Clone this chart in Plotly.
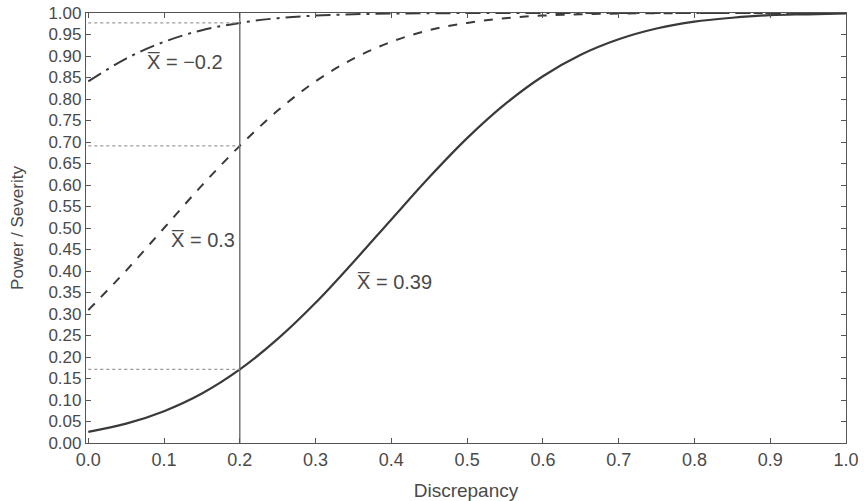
import plotly.graph_objects as go

# Discrepancy values
discrepancy = [0.00, 0.05, 0.10, 0.15, 0.20, 0.25, 0.30, 0.35, 0.40, 0.45, 0.50,
               0.55, 0.60, 0.65, 0.70, 0.75, 0.80, 0.85, 0.90, 0.95, 1.00]

# X-bar = -0.2 (dash-dot)
sev_m02 = [0.841, 0.894, 0.933, 0.960, 0.977, 0.988, 0.994, 0.997, 0.9987, 0.9995, 0.9998,
           0.9999, 1.0, 1.0, 1.0, 1.0, 1.0, 1.0, 1.0, 1.0, 1.0]
# X-bar = 0.3 (dashed)
sev_03 = [0.309, 0.401, 0.500, 0.599, 0.691, 0.773, 0.841, 0.894, 0.933, 0.960, 0.977,
          0.988, 0.994, 0.997, 0.9987, 0.9995, 0.9998, 0.9999, 1.0, 1.0, 1.0]
# X-bar = 0.39 (solid)
sev_039 = [0.026, 0.045, 0.074, 0.115, 0.171, 0.242, 0.326, 0.421, 0.520, 0.618, 0.709,
           0.788, 0.853, 0.903, 0.939, 0.964, 0.980, 0.989, 0.995, 0.997, 0.999]

ref_x = 0.2
ref_levels = [0.977, 0.691, 0.171]

labels = ["X\u0305 = \u22120.2", "X\u0305 = 0.3", "X\u0305 = 0.39"]
label_x = [0.075, 0.106, 0.352]
label_y = [0.886, 0.472, 0.374]

x_ticks = [0.0, 0.1, 0.2, 0.3, 0.4, 0.5, 0.6, 0.7, 0.8, 0.9, 1.0]
y_ticks = [round(i * 0.05, 2) for i in range(21)]

line_col = "#3a3a3a"
txt_col = "#4a4a4a"
fam = "Liberation Sans"

fig = go.Figure()
fig.add_trace(go.Scatter(x=discrepancy, y=sev_m02, mode="lines", hoverinfo="skip",
                         line=dict(color=line_col, width=2, dash="longdashdot", shape="spline")))
fig.add_trace(go.Scatter(x=discrepancy, y=sev_03, mode="lines", hoverinfo="skip",
                         line=dict(color=line_col, width=2, dash="dash", shape="spline")))
fig.add_trace(go.Scatter(x=discrepancy, y=sev_039, mode="lines", hoverinfo="skip",
                         line=dict(color=line_col, width=2.2, shape="spline")))

# vertical reference line
fig.add_shape(type="line", x0=ref_x, x1=ref_x, y0=0, y1=1, xref="x", yref="y",
              line=dict(color="#555555", width=1.2))
for lv in ref_levels:
    fig.add_shape(type="line", x0=0, x1=ref_x, y0=lv, y1=lv, xref="x", yref="y",
                  line=dict(color="#999999", width=1.2, dash="dot"))

for t, lx, ly in zip(labels, label_x, label_y):
    fig.add_annotation(x=lx, y=ly, text=t, showarrow=False, xanchor="left", yanchor="middle",
                       font=dict(size=20, color=txt_col, family=fam))

fig.update_layout(
    width=864, height=501,
    margin=dict(l=86, r=18, t=13, b=58),
    paper_bgcolor="white", plot_bgcolor="white",
    showlegend=False,
    font=dict(family=fam, size=18, color=txt_col),
)
fig.update_xaxes(range=[-0.003, 1.0], tickvals=x_ticks, ticktext=[f"{v:.1f}" for v in x_ticks],
                 ticks="inside", ticklen=5, tickcolor="#555", showline=True, linecolor="#555",
                 linewidth=1.2, mirror="ticks", showgrid=False, zeroline=False, automargin=False,
                 tickfont=dict(size=18), ticklabeloverflow="allow",
                 title=dict(text="Discrepancy", standoff=19, font=dict(size=19, color=txt_col)))
fig.update_yaxes(range=[0, 1.0], tickvals=y_ticks, ticktext=[f"{v:.2f}" for v in y_ticks],
                 ticks="inside", ticklen=5, tickcolor="#555", showline=True, linecolor="#555",
                 linewidth=1.2, mirror="ticks", showgrid=False, zeroline=False, automargin=False,
                 tickfont=dict(size=17), ticklabeloverflow="allow",
                 title=dict(text="Power / Severity", standoff=20, font=dict(size=17, color=txt_col)))

# remove the default page margin so the 864x501 figure fills the window exactly
fig.write_html("out.html", config={"displayModeBar": False},
               post_script="document.body.style.margin='0';document.body.style.overflow='hidden';")
